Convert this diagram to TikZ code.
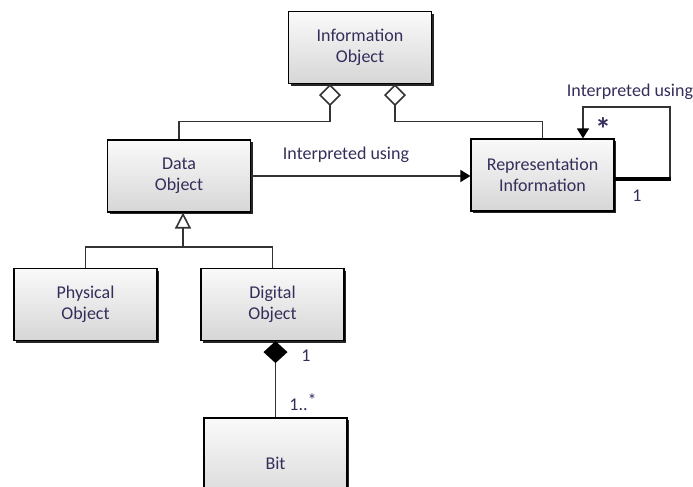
\documentclass[tikz,border=0pt]{standalone}
\usepackage{fontspec}
\setmainfont{Carlito}
\usetikzlibrary{arrows.meta, shadows, calc}
\definecolor{labeltext}{RGB}{55,45,90}

\begin{document}
\begin{tikzpicture}[x=0.5pt, y=-0.5pt, font=\fontsize{9}{10.5}\selectfont, text=labeltext]

    % Define styles for the classes and the relations
    \tikzstyle{class} = [draw, line width=0.6pt, minimum width=71.5pt, minimum height=36pt, align=center, top color=gray!4, bottom color=gray!32, drop shadow={shadow xshift=1.2pt, shadow yshift=-1.2pt, fill=black!85, opacity=1}]
    \tikzstyle{link} = [line width=0.8pt, draw=black!80]
    \tikzstyle{aggr} = [link, -{Diamond[open, length=11pt, width=11pt, fill=white]}]
    \tikzstyle{comp} = [link, -{Diamond[length=11pt, width=12pt, black]}]
    \tikzstyle{assoc} = [link, -{Triangle[length=5pt, width=6pt, black]}]
    \tikzstyle{gen} = [link, -{Triangle[open, length=8pt, width=8pt, fill=white]}]

    \clip (0,0) rectangle (693,487);

    \node (info) [class] at (360,47.5) {Information\\Object};
    \node (data) [class] at (179,176) {Data\\Object};
    \node (repinfo) [class] at (542.5,175) {Representation\\Information};
    \node (physical) [class] at (85.5,304.5) {Physical\\Object};
    \node (digital) [class] at (272.5,304.5) {Digital\\Object};
    \node (bit) [class, minimum height=45pt] at (275.5,463) {Bit};

    \coordinate (genjoin) at (183,247);
    \coordinate (loopcorner) at (670,107);

    % aggregation to the information object
    \draw[aggr] (data.north) -- ++(0,-18) -| ($(info.south)+(-30,0)$);
    \draw[aggr] (repinfo.north) -- ++(0,-17) -| ($(info.south)+(35,0)$);

    % interpreted using
    \draw[assoc] (data.east) -- (data.east -| repinfo.west);
    \draw[assoc] ($(repinfo.east)+(0,4)$) -| (loopcorner) -| ($(repinfo.north)+(40.5,0)$);
    \draw[line width=2pt] ($(repinfo.east)+(0,4)$) -- ++(56,0);

    % generalization and composition
    \draw[link] (physical.north) |- (genjoin) -| (digital.north);
    \draw[gen] (genjoin) -- (genjoin |- data.south);
    \draw[comp] (bit.north) -- (bit.north |- digital.south);

    \node (usedlabel) at (346,155) {Interpreted using};
    \node (looplabel) at (630,92) {Interpreted using};
    \node (loopmany) at (603,129) {\fontsize{16}{16}\selectfont\textbf{*}};
    \node (loopone) at (637,196) {1};
    \node (bitone) at (306,356) {1};
    \node (bitmany) at (303,402) {1..\raisebox{2pt}{*}};

\end{tikzpicture}
\end{document}
